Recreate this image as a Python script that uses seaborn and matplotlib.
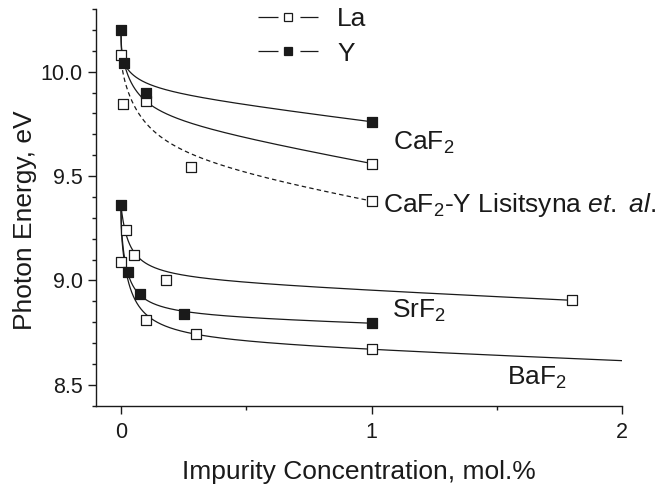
import numpy as np
import matplotlib
matplotlib.use('Agg')
import matplotlib.pyplot as plt
import seaborn as sns
from matplotlib.lines import Line2D
from matplotlib.legend_handler import HandlerTuple
from matplotlib.ticker import MultipleLocator, FixedLocator, FixedFormatter

# ---------------- measured points (markers) ----------------
caf2_la_x = [0, 0.1, 1]
caf2_la_y = [10.08, 9.86, 9.56]
caf2_y_x = [0, 0.013, 0.1, 1]
caf2_y_y = [10.20, 10.04, 9.90, 9.76]
lis_x = [0.01, 0.28, 1]
lis_y = [9.845, 9.545, 9.38]
srf2_la_x = [0.02, 0.053, 0.18, 1.8]
srf2_la_y = [9.24, 9.12, 9.00, 8.905]
srf2_y_x = [0, 0.027, 0.075, 0.25, 1]
srf2_y_y = [9.36, 9.04, 8.935, 8.84, 8.795]
baf2_la_x = [0, 0.1, 0.3, 1]
baf2_la_y = [9.09, 8.81, 8.745, 8.67]

# ---------------- guide curves ----------------
caf2_y_curve_x = [0, 0.013, 0.089, 0.222, 0.355, 0.595, 1]
caf2_y_curve_y = [10.20, 10.04, 9.953, 9.90, 9.870, 9.825, 9.76]
caf2_la_curve_x = [0, 0.013, 0.1, 0.156, 0.355, 0.595, 1]
caf2_la_curve_y = [10.20, 10.04, 9.86, 9.81, 9.729, 9.657, 9.56]
lis_curve_x = [0, 0.036, 0.089, 0.222, 0.355, 0.595, 1]
lis_curve_y = [10.08, 9.881, 9.769, 9.641, 9.569, 9.489, 9.38]
srf2_la_curve_x = [0, 0.02, 0.053, 0.169, 0.435, 0.70, 1.027, 1.8]
srf2_la_curve_y = [9.36, 9.237, 9.117, 9.051, 9.003, 8.973, 8.950, 8.905]
srf2_y_curve_x = [0, 0.027, 0.073, 0.14, 0.25, 0.435, 0.70, 1]
srf2_y_curve_y = [9.36, 9.037, 8.936, 8.88, 8.856, 8.827, 8.811, 8.795]
baf2_curve_x = [0, 0.02, 0.053, 0.093, 0.166, 0.302, 0.568, 1, 2]
baf2_curve_y = [9.36, 9.04, 8.936, 8.832, 8.776, 8.744, 8.715, 8.667, 8.615]

x_ticks = [0, 1, 2]
x_tick_labels = ['0', '1', '2']
y_ticks = [8.5, 9.0, 9.5, 10.0]
y_tick_labels = ['8.5', '9.0', '9.5', '10.0']
legend_labels = ['La', 'Y']


def fit_curve(xs, ys):
    """Monotone decreasing fit: a + d*x + b1/(1+x/t1) + b2/(1+x/t2)."""
    x = np.asarray(xs, float)
    y = np.asarray(ys, float)
    w = np.ones_like(x)
    w[x == 0] = 10.0
    ts = np.geomspace(0.001, 3, 45)
    best = None
    for i, t1 in enumerate(ts):
        for t2 in ts[i + 1:]:
            A = np.column_stack([np.ones_like(x), x, 1 / (1 + x / t1), 1 / (1 + x / t2)])
            coef, *_ = np.linalg.lstsq(A * w[:, None], y * w, rcond=None)
            if coef[1] > 0 or coef[2] < 0 or coef[3] < 0:
                continue
            r = np.sum((w * (A @ coef - y)) ** 2)
            if best is None or r < best[0]:
                best = (r, t1, t2, coef)
    _, t1, t2, c = best
    return lambda xx: c[0] + c[1] * xx + c[2] / (1 + xx / t1) + c[3] / (1 + xx / t2)


sns.set_theme(style='ticks')
plt.rcParams['font.family'] = ['Liberation Sans', 'DejaVu Sans']
plt.rcParams['mathtext.fontset'] = 'custom'
plt.rcParams['mathtext.rm'] = 'Liberation Sans'
plt.rcParams['mathtext.it'] = 'Liberation Sans:italic'
plt.rcParams['mathtext.bf'] = 'Liberation Sans:bold'
plt.rcParams['lines.scale_dashes'] = False

fig = plt.figure(figsize=(6.58, 4.87), dpi=100)
ax = fig.add_axes([0.1457, 0.1669, 0.8001, 0.8146])

LC = '#1a1a1a'
LW = 0.9

curves = [
    (caf2_y_curve_x, caf2_y_curve_y, 1.0, '-'),
    (caf2_la_curve_x, caf2_la_curve_y, 1.0, '-'),
    (lis_curve_x, lis_curve_y, 1.0, (0, (3.2, 2.3))),
    (srf2_la_curve_x, srf2_la_curve_y, 1.8, '-'),
    (srf2_y_curve_x, srf2_y_curve_y, 1.0, '-'),
    (baf2_curve_x, baf2_curve_y, 2.0, '-'),
]
for cx, cy, xmax, ls in curves:
    f = fit_curve(cx, cy)
    xx = np.concatenate([[0.0], np.geomspace(1e-4, xmax, 700)])
    sns.lineplot(x=xx, y=f(xx), ax=ax, color=LC, linewidth=LW, linestyle=ls,
                 sort=False, estimator=None, zorder=2)

open_sets = [(caf2_la_x, caf2_la_y), (lis_x, lis_y), (srf2_la_x, srf2_la_y), (baf2_la_x, baf2_la_y)]
filled_sets = [(caf2_y_x, caf2_y_y), (srf2_y_x, srf2_y_y)]
for px, py in open_sets:
    sns.scatterplot(x=px, y=py, ax=ax, marker='s', s=42, color='white',
                    edgecolor=LC, linewidth=0.9, zorder=4)
for px, py in filled_sets:
    sns.scatterplot(x=px, y=py, ax=ax, marker='s', s=48, color=LC,
                    edgecolor=LC, linewidth=0.9, zorder=4)

ax.set_xlim(-0.1, 2.0)
ax.set_ylim(8.4, 10.3)
ax.xaxis.set_major_locator(FixedLocator(x_ticks))
ax.xaxis.set_major_formatter(FixedFormatter(x_tick_labels))
ax.xaxis.set_minor_locator(MultipleLocator(0.5))
ax.yaxis.set_major_locator(FixedLocator(y_ticks))
ax.yaxis.set_major_formatter(FixedFormatter(y_tick_labels))
ax.yaxis.set_minor_locator(MultipleLocator(0.1))

for s in ['top', 'right']:
    ax.spines[s].set_visible(False)
for s in ['left', 'bottom']:
    ax.spines[s].set_linewidth(1.0)
    ax.spines[s].set_color(LC)

ax.tick_params(which='major', direction='out', length=6, width=1.0, color=LC, labelsize=15.5, labelcolor=LC)
ax.tick_params(which='minor', direction='out', length=3, width=1.0, color=LC)
ax.tick_params(axis='x', which='major', pad=6)
ax.tick_params(axis='y', which='major', pad=3.5)
ax.grid(False)

ax.set_xlabel('Impurity Concentration, mol.%', fontsize=19, color=LC, labelpad=12)
ax.set_ylabel('Photon Energy, eV', fontsize=19, color=LC)
ax.yaxis.set_label_coords(-0.112, 0.468)

# annotations
ax.text(1.085, 9.625, r'CaF$_2$', fontsize=19, color=LC, va='baseline', ha='left')
ax.text(1.045, 9.33, r'CaF$_2$-Y Lisitsyna $\mathit{et.\ al.}$', fontsize=19, color=LC, va='baseline', ha='left')
ax.text(1.081, 8.822, r'SrF$_2$', fontsize=19, color=LC, va='baseline', ha='left')
ax.text(1.540, 8.501, r'BaF$_2$', fontsize=19, color=LC, va='baseline', ha='left')

# Origin-style legend handles: line - gap - marker - gap - line
seg = (0, (14.4, 15.8, 13.0, 100))
h_la = (Line2D([], [], color=LC, lw=LW, linestyle=seg),
        Line2D([], [], linestyle='none', marker='s', markersize=6.0, markerfacecolor='white',
               markeredgecolor=LC, markeredgewidth=0.9))
h_y = (Line2D([], [], color=LC, lw=LW, linestyle=seg),
       Line2D([], [], linestyle='none', marker='s', markersize=6.3, markerfacecolor=LC,
              markeredgecolor=LC, markeredgewidth=0.9))
ax.legend([h_la, h_y], legend_labels, loc='upper left', bbox_to_anchor=(0.308, 1.005), frameon=False,
          fontsize=19, handlelength=2.3, handletextpad=0.7, labelspacing=0.40,
          borderpad=0, borderaxespad=0, numpoints=1, labelcolor=LC,
          handler_map={tuple: HandlerTuple(ndivide=1)})

fig.savefig('out.png', dpi=100)
